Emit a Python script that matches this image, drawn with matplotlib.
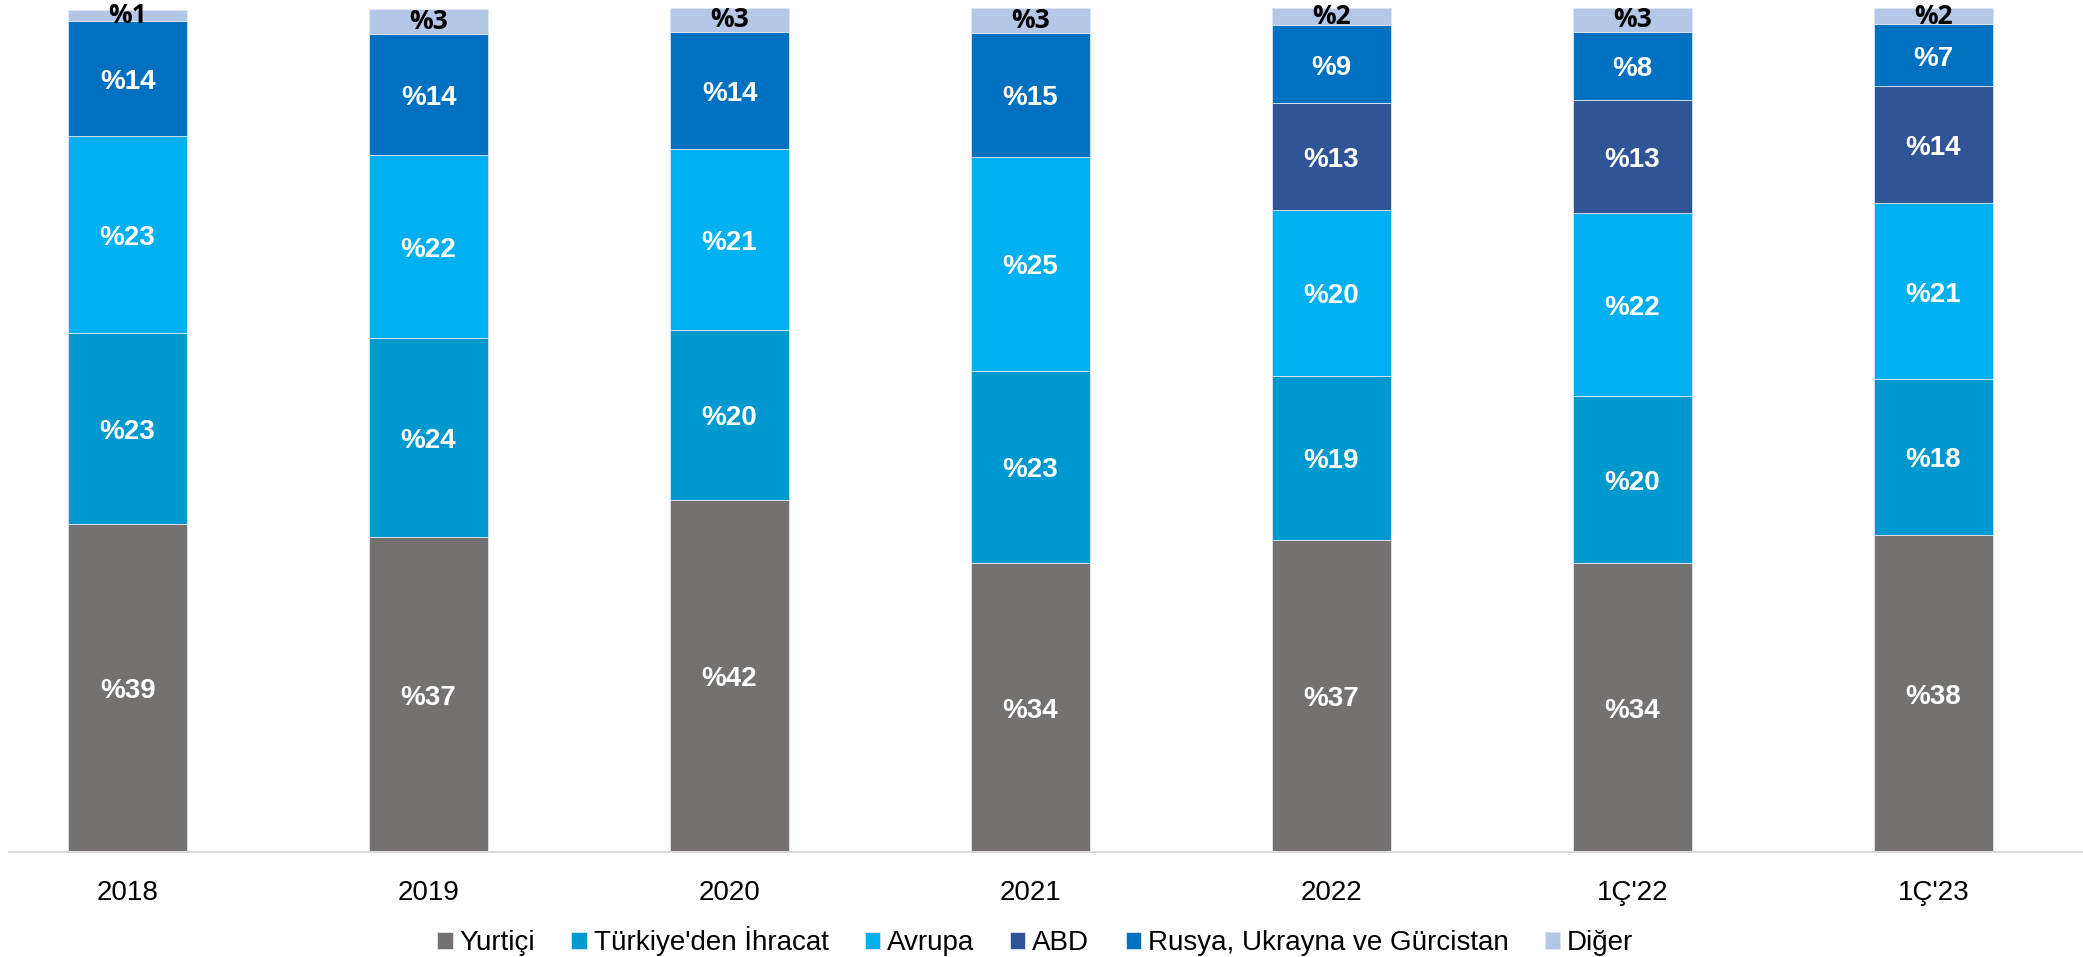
import matplotlib.pyplot as plt
import numpy as np

categories = ['2018', '2019', '2020', '2021', '2022', "1Ç'22", "1Ç'23"]
yurtici = [38.9, 37.3, 41.7, 34.3, 37.0, 34.2, 37.6]
turkiye_ihracat = [22.6, 23.6, 20.2, 22.7, 19.4, 19.8, 18.4]
avrupa = [23.3, 21.7, 21.4, 25.4, 19.7, 21.7, 20.9]
abd = [0, 0, 0, 0, 12.6, 13.4, 13.8]
rusya = [13.7, 14.3, 13.9, 14.6, 9.3, 8.1, 7.4]
diger = [1.3, 3.0, 2.8, 3.0, 2.0, 2.8, 1.9]

series = [
    ('Yurtiçi', yurtici, '#767171'),
    ("Türkiye'den İhracat", turkiye_ihracat, '#0099CF'),
    ('Avrupa', avrupa, '#00B0F0'),
    ('ABD', abd, '#2F5597'),
    ('Rusya, Ukrayna ve Gürcistan', rusya, '#0070C0'),
    ('Diğer', diger, '#B4C7E7'),
]

plt.rcParams['font.family'] = ['Liberation Sans', 'DejaVu Sans']

fig = plt.figure(figsize=(20.83, 9.57), dpi=100)
ax = fig.add_axes([9 / 2083, 1 - 852 / 957, 1 - 9 / 2083, 844 / 957])

x = np.arange(len(categories))
bottom = np.zeros(len(categories))
for name, vals, color in series:
    vals = np.array(vals, dtype=float)
    ax.bar(x, vals, 0.395, bottom=bottom, color=color, label=name,
           edgecolor='#DDE6F2', linewidth=0.6)
    for xi, v, b in zip(x, vals, bottom):
        if v <= 0:
            continue
        if name == 'Diğer':
            ax.text(xi, b + v / 2, '%' + format(v, '.0f'), ha='center', va='center',
                    fontsize=19, fontweight='bold', color='black',
                    family=['Open Sans', 'DejaVu Sans'])
        else:
            ax.text(xi, b + v / 2 - 0.4, '%' + format(v, '.0f'), ha='center', va='center',
                    fontsize=20, fontweight='bold', color='white')
    bottom += vals

ax.set_xlim(-0.394, 6.497)
ax.set_ylim(0, 100)
ax.set_xticks(x)
ax.set_xticklabels(categories, fontsize=20)
ax.tick_params(axis='x', length=0, pad=20)
ax.set_yticks([])
for s in ['top', 'left', 'right']:
    ax.spines[s].set_visible(False)
ax.spines['bottom'].set_color('#D9D9D9')
ax.spines['bottom'].set_linewidth(1.5)

fig.legend(loc='center', bbox_to_anchor=(0.497, 1 - 941 / 957), ncol=6, frameon=False,
           fontsize=20, handlelength=0.55, handleheight=0.55, handletextpad=0.25,
           columnspacing=1.3)

fig.savefig('out.png', dpi=100)
